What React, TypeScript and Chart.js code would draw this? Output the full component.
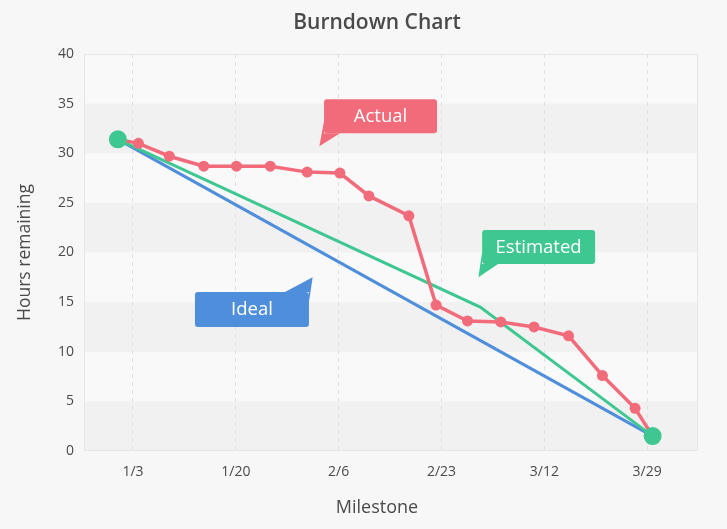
import React, { useEffect, useRef } from 'react';
import { Chart, registerables } from 'chart.js';

Chart.register(...registerables);

// Milestone ticks: days counted from 1/3
const tickDays = [0, 17, 34, 51, 68, 85];
const tickLabels = ['1/3', '1/20', '2/6', '2/23', '3/12', '3/29'];

// Ideal burndown: straight line from kickoff to delivery
const idealDays = [-2.5, 85.9];
const idealHours = [31.4, 1.5];

// Estimated burndown
const estimatedDays = [-2.5, 57.4, 85.9];
const estimatedHours = [31.4, 14.5, 1.5];

// Actual hours remaining at each check-in
const actualDays = [-2.5, 0.9, 6.0, 11.7, 17.1, 22.7, 28.8, 34.2, 39.0, 45.6, 50.1, 55.3, 60.8, 66.3, 72.0, 77.6, 83.0, 85.9];
const actualHours = [31.4, 31.0, 29.7, 28.7, 28.7, 28.7, 28.1, 28.0, 25.7, 23.7, 14.7, 13.1, 13.0, 12.5, 11.6, 7.6, 4.3, 1.5];

// Start / finish milestones
const milestoneDays = [-2.5, 85.9];
const milestoneHours = [31.4, 1.5];

// Shaded hour bands in the plot background
const bandStarts = [0, 10, 20, 30];
const bandSize = 5;

const CHART_TITLE = 'Burndown Chart';
const X_TITLE = 'Milestone';
const Y_TITLE = 'Hours remaining';

const FONT = "'Open Sans', sans-serif";
const PAGE_BG = '#f7f7f7';
const PLOT_BG = '#f9f9f9';
const BAND_BG = '#f1f1f1';
const FRAME = '#e6e6e6';
const TEXT = '#4a4a4a';
const RED = '#f26b7b';
const BLUE = '#4f8edb';
const GREEN = '#3fc792';

type Callout = {
  text: string;
  color: string;
  tipDay: number;
  tipHours: number;
  dx: number;
  dy: number;
  w: number;
  h: number;
  tail: 'bottomLeft' | 'topRight';
};

const callouts: Callout[] = [
  { text: 'Actual', color: RED, tipDay: 30.8, tipHours: 30.7, dx: 4.7, dy: -47, w: 113, h: 34, tail: 'bottomLeft' },
  { text: 'Ideal', color: BLUE, tipDay: 29.7, tipHours: 17.5, dx: -117.7, dy: 14.7, w: 114, h: 35, tail: 'topRight' },
  { text: 'Estimated', color: GREEN, tipDay: 57.1, tipHours: 17.5, dx: 3.7, dy: -47.3, w: 113, h: 34, tail: 'bottomLeft' },
];

const toPoints = (xs: number[], ys: number[]) => xs.map((x, i) => ({ x, y: ys[i] }));

const backdropPlugin = {
  id: 'backdrop',
  beforeDraw(chart: any) {
    const { ctx, chartArea: a, scales } = chart;
    const y = scales.y;
    ctx.save();
    ctx.fillStyle = PAGE_BG;
    ctx.fillRect(0, 0, chart.width, chart.height);
    ctx.fillStyle = PLOT_BG;
    ctx.fillRect(a.left, a.top, a.right - a.left, a.bottom - a.top);
    ctx.fillStyle = BAND_BG;
    bandStarts.forEach((lo) => {
      const y0 = y.getPixelForValue(lo);
      const y1 = y.getPixelForValue(lo + bandSize);
      ctx.fillRect(a.left, y1, a.right - a.left, y0 - y1);
    });
    ctx.strokeStyle = FRAME;
    ctx.lineWidth = 1;
    ctx.strokeRect(a.left + 0.5, a.top + 0.5, a.right - a.left - 1, a.bottom - a.top - 1);
    ctx.restore();
  },
};

// Heading and x-axis caption, centred on the same column
const headingPlugin = {
  id: 'headings',
  afterDraw(chart: any) {
    const { ctx } = chart;
    const cx = 377;
    ctx.save();
    ctx.fillStyle = TEXT;
    ctx.textAlign = 'center';
    ctx.textBaseline = 'middle';
    ctx.font = `600 21px ${FONT}`;
    ctx.fillText(CHART_TITLE, cx, 23);
    ctx.font = `18px ${FONT}`;
    ctx.fillText(X_TITLE, cx, 508);
    ctx.restore();
  },
};

const calloutPlugin = {
  id: 'callouts',
  afterDraw(chart: any) {
    const { ctx, scales } = chart;
    ctx.save();
    callouts.forEach((c) => {
      const tx = scales.x.getPixelForValue(c.tipDay);
      const ty = scales.y.getPixelForValue(c.tipHours);
      const L = tx + c.dx;
      const T = ty + c.dy;
      const R = L + c.w;
      const B = T + c.h;
      ctx.fillStyle = c.color;
      ctx.beginPath();
      ctx.roundRect(L, T, c.w, c.h, 3);
      ctx.fill();
      ctx.beginPath();
      if (c.tail === 'bottomLeft') {
        ctx.moveTo(L, B - 12);
        ctx.lineTo(tx, ty);
        ctx.lineTo(L + 16, B);
        ctx.lineTo(L, B);
      } else {
        ctx.moveTo(R - 24, T);
        ctx.lineTo(tx, ty);
        ctx.lineTo(R, T + 10);
        ctx.lineTo(R, T);
      }
      ctx.closePath();
      ctx.fill();
      ctx.fillStyle = '#ffffff';
      ctx.font = `18.5px ${FONT}`;
      ctx.textAlign = 'center';
      ctx.textBaseline = 'middle';
      ctx.fillText(c.text, (L + R) / 2, (T + B) / 2 + 0.5);
    });
    ctx.restore();
  },
};

export default function App() {
  const canvasRef = useRef<HTMLCanvasElement | null>(null);

  useEffect(() => {
    if (!canvasRef.current) return;
    const chart = new Chart(canvasRef.current, {
      type: 'line',
      data: {
        datasets: [
          {
            label: 'Milestones',
            data: toPoints(milestoneDays, milestoneHours),
            showLine: false,
            pointRadius: 9,
            pointBackgroundColor: GREEN,
            pointBorderWidth: 0,
            order: 0,
          },
          {
            label: 'Actual',
            data: toPoints(actualDays, actualHours),
            borderColor: RED,
            borderWidth: 3.5,
            pointRadius: 5.5,
            pointBackgroundColor: RED,
            pointBorderWidth: 0,
            tension: 0,
            order: 1,
          },
          {
            label: 'Estimated',
            data: toPoints(estimatedDays, estimatedHours),
            borderColor: GREEN,
            borderWidth: 3,
            pointRadius: 0,
            tension: 0,
            order: 2,
          },
          {
            label: 'Ideal',
            data: toPoints(idealDays, idealHours),
            borderColor: BLUE,
            borderWidth: 3,
            pointRadius: 0,
            tension: 0,
            order: 3,
          },
        ],
      },
      options: {
        responsive: false,
        animation: false,
        layout: { padding: { left: 0, right: 29, top: 54, bottom: 0 } },
        plugins: {
          legend: { display: false },
          tooltip: { enabled: false },
          title: { display: false },
        },
        scales: {
          x: {
            type: 'linear',
            min: -8.1,
            max: 93.4,
            afterBuildTicks: (s: any) => {
              s.ticks = tickDays.map((v) => ({ value: v }));
            },
            afterFit: (s: any) => {
              s.height = 78;
            },
            ticks: {
              autoSkip: false,
              maxRotation: 0,
              padding: 13,
              color: TEXT,
              font: { family: FONT, size: 14 },
              callback: (v: any) => {
                const i = tickDays.indexOf(Number(v));
                return i >= 0 ? tickLabels[i] : '';
              },
            },
            grid: { color: '#e0e0e0', lineWidth: 1, drawTicks: false },
            border: { display: false, dash: [4, 4] },
            title: { display: false },
          },
          y: {
            min: 0,
            max: 40,
            afterFit: (s: any) => {
              s.width = 84;
            },
            ticks: {
              stepSize: 5,
              padding: 10,
              color: TEXT,
              font: { family: FONT, size: 14 },
            },
            grid: { display: false, drawTicks: false },
            border: { display: false },
            title: {
              display: true,
              text: Y_TITLE,
              color: TEXT,
              font: { family: FONT, size: 17.5 },
              padding: { top: 14.5, bottom: 0 },
            },
          },
        },
      },
      plugins: [backdropPlugin, headingPlugin, calloutPlugin],
    });
    return () => chart.destroy();
  }, []);

  return (
    <div style={{ position: 'absolute', left: 0, top: 0, width: 727, height: 529, background: PAGE_BG }}>
      <canvas ref={canvasRef} width={727} height={529} />
    </div>
  );
}
